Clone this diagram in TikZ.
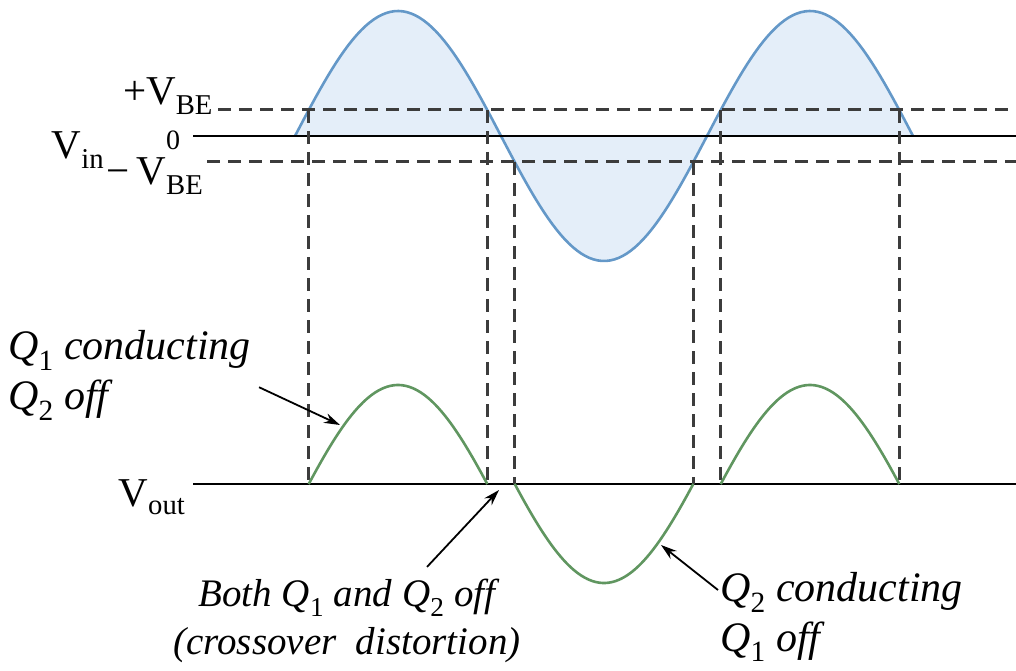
\documentclass[tikz,border=0pt]{standalone}
\usepackage{fontspec}
\setmainfont{Liberation Serif}
\usetikzlibrary{arrows.meta,positioning}
\definecolor{sigblue}{RGB}{100,152,200}
\definecolor{sigfill}{RGB}{228,238,249}
\definecolor{siggreen}{RGB}{96,150,96}
\definecolor{guidegray}{RGB}{60,60,60}

\begin{document}
\begin{tikzpicture}[x=1pt, y=-1pt,
      lbl/.style={inner sep=0pt, font=\fontsize{41}{46}\selectfont},
      note/.style={inner sep=0pt, align=left,
                   font=\fontsize{42}{50}\selectfont\itshape},
      guide/.style={dash pattern=on 13pt off 8pt, line width=3pt, color=guidegray},
      axis/.style={line width=2.4pt, black},
      vin/.style={line width=2.6pt, color=sigblue},
      vout/.style={line width=2.6pt, color=siggreen},
      arr/.style={-{Stealth[length=16pt,width=10pt]}, line width=1.8pt}
  ]
    \useasboundingbox (0,0) rectangle (1016,671);
    % input signal
    \fill[sigfill] plot[domain=295:913, samples=150]
        (\x,{136-125*sin((\x-295)/206*180)}) -- cycle;
    \draw[vin] plot[domain=295:913, samples=150]
        (\x,{136-125*sin((\x-295)/206*180)});
    % levels
    \draw[axis] (193,136) -- (1016,136);
    \draw[guide] (218,110) -- (1016,110);
    \draw[guide] (207,162) -- (1016,162);
    \draw[axis] (193,484) -- (1016,484);
    \foreach \xa/\ya in {308.7/110, 487.3/110, 514.7/162, 693.3/162, 720.7/110, 899.3/110}
        \draw[guide] (\xa,\ya) -- (\xa,484);
    % output signal
    \draw[vout] plot[domain=308.7:487.3, samples=60]
        (\x,{510-125*sin((\x-295)/206*180)});
    \draw[vout] plot[domain=514.7:693.3, samples=60]
        (\x,{458-125*sin((\x-295)/206*180)});
    \draw[vout] plot[domain=720.7:899.3, samples=60]
        (\x,{510-125*sin((\x-295)/206*180)});
    % level labels
    \node[lbl] (vbep) at (168,96) {+V\textsubscript{BE}};
    \node[lbl, font=\fontsize{28}{30}\selectfont] (zero) at (173,140) {0};
    \node[lbl] (vin) at (78,150) {V\textsubscript{in}};
    \node[lbl] (vben) at (155,176) {−\,V\textsubscript{BE}};
    \node[lbl] (vout) at (152,497) {V\textsubscript{out}};
    % notes
    \node[note, anchor=north west] (q1on) at (8,330)
        {Q\textsubscript{\upshape 1} conducting\\Q\textsubscript{\upshape 2} off};
    \node[note, align=center, font=\fontsize{39}{48}\selectfont\itshape] (both) at (347,621)
        {Both Q\textsubscript{\upshape 1} and\ Q\textsubscript{\upshape 2} off\\(crossover\ \ distortion)};
    \node[note, anchor=west] (q2on) at (720,617)
        {Q\textsubscript{\upshape 2} conducting\\Q\textsubscript{\upshape 1} off};
    \coordinate (tip1) at (340,425);
    \coordinate (tip2) at (499,490);
    \coordinate (tip3) at (661,545);
    \draw[arr] ([xshift=8pt,yshift=-12pt]q1on.east) -- (tip1);
    \draw[arr] ([xshift=80pt,yshift=12pt]both.north) -- (tip2);
    \draw[arr] ([xshift=-2pt,yshift=27pt]q2on.west) -- (tip3);
\end{tikzpicture}
\end{document}
